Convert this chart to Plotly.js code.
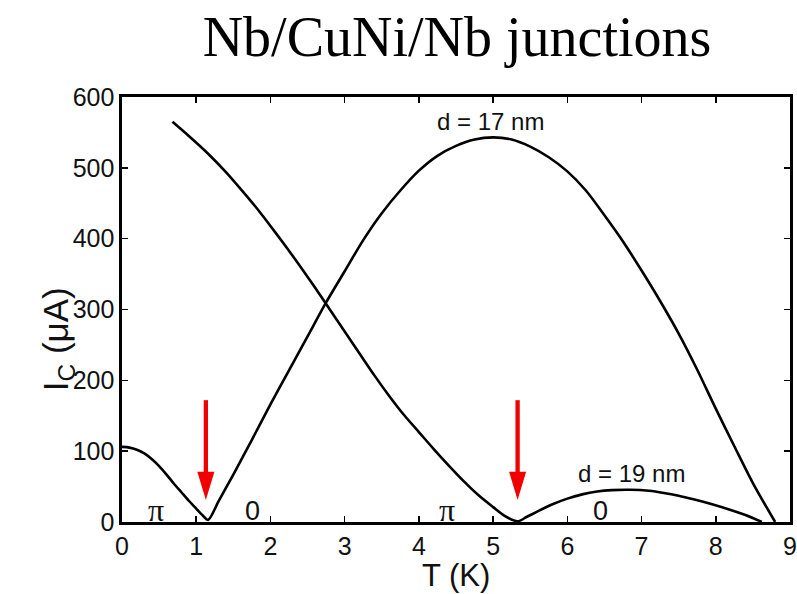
<!DOCTYPE html>
<html>
<head>
<meta charset="utf-8">
<script src="https://cdn.plot.ly/plotly-3.0.1.min.js"></script>
<style>html,body{margin:0;padding:0;background:#fff;}#chart{width:797px;height:594px;}</style>
</head>
<body>
<div id="chart"></div>
<script>
// d = 17 nm junction
const t17 = [0, 0.1, 0.2, 0.3, 0.4, 0.5, 0.6, 0.7, 0.8, 0.9, 1.0, 1.08, 1.16, 1.3, 1.5, 1.75, 2.0, 2.25, 2.5, 2.75, 3.0, 3.25, 3.5, 3.75, 4.0, 4.25, 4.5, 4.75, 5.0, 5.25, 5.5, 5.75, 6.0, 6.25, 6.5, 6.75, 7.0, 7.25, 7.5, 7.75, 8.0, 8.25, 8.5, 8.8];
const ic17 = [106, 105, 102, 97, 89, 79, 67, 54, 42, 30, 19, 10, 3, 29, 67, 116, 166, 214, 262, 310, 354, 398, 436, 468, 496, 517, 531, 540, 543, 540, 530, 515, 495, 468, 433, 396, 355, 312, 266, 215, 160, 107, 55, 0];
// d = 19 nm junction
const t19 = [0.68, 0.9, 1.14, 1.4, 1.6, 1.8, 2.0, 2.2, 2.4, 2.6, 2.8, 3.0, 3.2, 3.4, 3.6, 3.8, 4.0, 4.2, 4.4, 4.6, 4.8, 5.0, 5.15, 5.33, 5.45, 5.6, 5.8, 6.0, 6.2, 6.4, 6.6, 6.85, 7.1, 7.3, 7.5, 7.7, 7.95, 8.2, 8.4, 8.62];
const ic19 = [565, 545, 522, 494, 470, 445, 418, 390, 361, 331, 300, 269, 238, 207, 178, 151, 127, 103, 80, 58, 38, 21, 9, 1, 7, 15, 25, 33, 39, 43, 45, 45.5, 44, 41, 37, 32, 25, 17, 10, 0];
// transition temperatures marked by arrows
const arrowT = [1.13, 5.33];
const xTicks = [0, 1, 2, 3, 4, 5, 6, 7, 8, 9];
const yTicks = [0, 100, 200, 300, 400, 500, 600];
const curveLabels = [{text: 'd = 17 nm', t: 4.97, ic: 565}, {text: 'd = 19 nm', t: 6.87, ic: 68}];
const stateLabels = [
  {text: 'π', t: 0.46, ic: 17, serif: true},
  {text: '0', t: 1.76, ic: 15, serif: false},
  {text: 'π', t: 4.38, ic: 17, serif: true},
  {text: '0', t: 6.45, ic: 15, serif: false}
];

const traces = [
  {x: t17, y: ic17, mode: 'lines', line: {color: '#000', width: 2.6, shape: 'spline', smoothing: 0.8}, hoverinfo: 'skip'},
  {x: t19, y: ic19, mode: 'lines', line: {color: '#000', width: 2.6, shape: 'spline', smoothing: 0.8}, hoverinfo: 'skip'}
];

const red = '#f00000';
const shapes = [];
arrowT.forEach(t => {
  shapes.push({type: 'line', xref: 'x', yref: 'y', x0: t, x1: t, y0: 172, y1: 68, line: {color: red, width: 4.3}});
  shapes.push({type: 'path', xref: 'x', yref: 'y', path: `M ${t - 0.115},71 L ${t + 0.115},71 L ${t},31 Z`, fillcolor: red, line: {color: red, width: 0}});
});

const annotations = [];
curveLabels.forEach(l => annotations.push({x: l.t, y: l.ic, xref: 'x', yref: 'y', text: l.text, showarrow: false, xanchor: 'center', yanchor: 'middle', font: {family: 'Liberation Sans, Arial', size: 24, color: '#111'}}));
stateLabels.forEach(l => annotations.push({x: l.t, y: l.ic, xref: 'x', yref: 'y', text: l.text, showarrow: false, xanchor: 'center', yanchor: 'middle', font: {family: l.serif ? 'Liberation Serif, Times New Roman' : 'Liberation Sans, Arial', size: l.serif ? 32 : 27, color: '#111'}}));
// axis titles
annotations.push({xref: 'paper', yref: 'paper', x: 0.5, y: 0, yshift: -53, text: 'T (K)', showarrow: false, xanchor: 'center', yanchor: 'middle', font: {family: 'Liberation Sans, Arial', size: 31, color: '#111'}});
annotations.push({xref: 'paper', yref: 'paper', x: 0, xshift: -64, y: 0.43, text: 'I<sub>C</sub> (μA)', textangle: -90, showarrow: false, xanchor: 'center', yanchor: 'middle', font: {family: 'Liberation Sans, Arial', size: 35, color: '#111'}});

const axisCommon = {
  showgrid: false, zeroline: false, showline: true, linecolor: '#000', linewidth: 2.6, mirror: 'ticks',
  ticks: 'inside', ticklen: 6, tickwidth: 1.5, tickcolor: '#000',
  tickfont: {family: 'Liberation Sans, Arial', size: 25, color: '#111'}
};

const layout = {
  width: 797, height: 594,
  margin: {l: 122, r: 7, t: 97, b: 72},
  paper_bgcolor: '#fff', plot_bgcolor: '#fff',
  showlegend: false,
  title: {text: 'Nb/CuNi/Nb junctions', font: {family: 'Liberation Serif, Times New Roman', size: 56, color: '#000'}, x: 457 / 797, xanchor: 'center', xref: 'container', yref: 'container', y: 1 - 36 / 594, yanchor: 'middle'},
  xaxis: Object.assign({}, axisCommon, {range: [0, 9], tickvals: xTicks, ticktext: xTicks.map(String)}),
  yaxis: Object.assign({}, axisCommon, {range: [0, 600], tickvals: yTicks, ticktext: yTicks.map(String)}),
  shapes: shapes,
  annotations: annotations
};

Plotly.newPlot('chart', traces, layout, {displayModeBar: false, staticPlot: true});
</script>
</body>
</html>
